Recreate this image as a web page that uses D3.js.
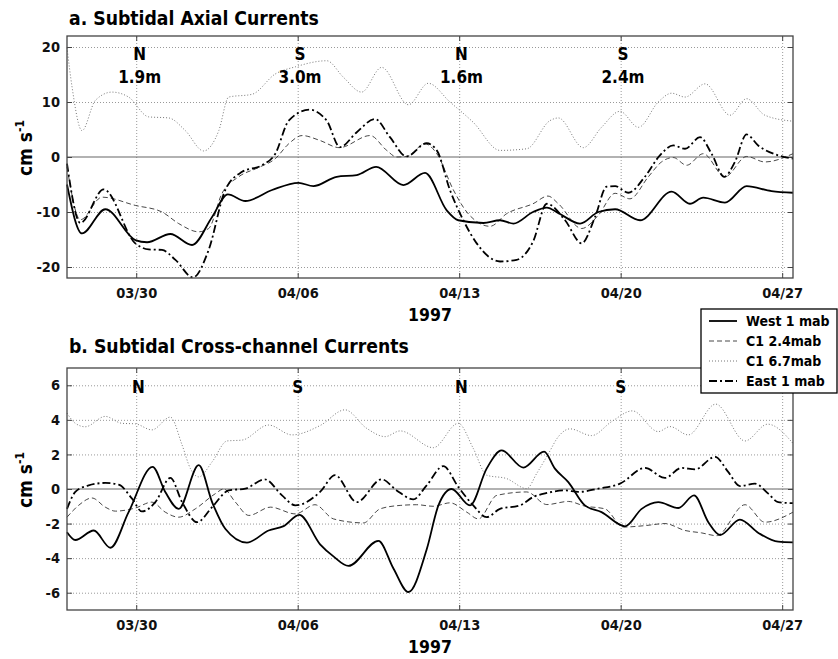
<!DOCTYPE html>
<html>
<head>
<meta charset="utf-8">
<script src="https://cdn.jsdelivr.net/npm/d3@7"></script>
<style>
  body { margin: 0; background: #fff; }
  svg { font-family: "DejaVu Sans Condensed", "DejaVu Sans", sans-serif; font-weight: bold; }
  .grid line { stroke: #999; stroke-dasharray: 1,2; }
  .grid path { display: none; }
  .ax path { display: none; }
  .ax line { stroke: #444; }
  .ax text { font-size: 14.5px; font-family: "DejaVu Sans Condensed", sans-serif; font-weight: bold; fill: #111; }
</style>
</head>
<body>
<script>
var width = 838, height = 659;

// days since 03/27/1997 and current (cm/s)
var axialWest = [[0,-5],[0.65,-13.9],[1.66,-9.5],[2.96,-15.1],[3.47,-15.5],[4.48,-14],[5.42,-16],[6.29,-10.9],[6.97,-6.8],[7.73,-8],[8.89,-6],[10.04,-4.7],[10.68,-5.3],[11.69,-3.6],[12.56,-3.3],[13.4,-1.8],[14.58,-5.1],[15.52,-2.9],[16.46,-9.7],[16.96,-11.5],[18.05,-12],[18.77,-11.5],[19.35,-12.1],[20.2,-10],[20.8,-9.2],[21.3,-10.2],[22.24,-12.1],[23.03,-10],[23.76,-9.5],[24.84,-11.5],[26.21,-6.3],[27,-8.5],[27.58,-7.4],[28.52,-8.3],[29.46,-5.3],[30.54,-6.2],[31.47,-6.5]];
var axialC1low = [[0,-1.8],[0.58,-11.4],[1.52,-7.3],[2.96,-8.8],[4.12,-10],[4.84,-12.1],[5.71,-13.6],[6.14,-13],[6.72,-6.6],[7.44,-3.6],[8.31,-1.9],[9.03,-0.3],[9.61,2.4],[10.19,3.9],[10.97,3],[11.8,1.7],[13.14,3.9],[13.86,1.2],[14.29,0],[14.72,0.1],[15.52,2.4],[16.03,0.6],[16.75,-6],[17.33,-10],[18.34,-12.6],[19.06,-10.3],[20.2,-8.5],[20.85,-7.1],[21.3,-8.5],[22.31,-13],[23.03,-10.6],[23.76,-6.6],[24.4,-7.6],[25.2,-3.6],[25.77,-0.9],[26.28,-0.1],[26.86,-1.5],[27.58,0.6],[28.52,-3.6],[29.46,0.1],[30.25,-0.9],[31.47,0.6]];
var axialC1high = [[0,19.9],[0.22,12.7],[0.65,4.8],[1.23,10.3],[1.95,11.8],[2.67,10.9],[3.54,7.3],[4.41,7.1],[5.13,4.8],[5.92,1.1],[6.58,4.8],[7.01,10.9],[8.02,11.4],[9.03,15.1],[9.9,16.4],[11.26,17.5],[11.98,14.5],[12.77,11.8],[13.64,16.3],[14.8,9.5],[15.66,13.4],[16.6,10],[17.61,6.3],[18.77,1.2],[19.93,1.5],[20.93,6.6],[21.3,7.1],[22.38,1.7],[23.17,5.4],[23.97,8.3],[24.77,5.4],[25.63,10],[26.21,11.6],[26.79,10.9],[27.66,13.3],[28.74,7.6],[29.46,10.6],[30.25,7.6],[31.47,6.5]];
var axialEast = [[0,-1.2],[0.58,-12],[1.59,-5.9],[2.96,-15.7],[3.54,-16.8],[4.12,-16.9],[4.7,-18.7],[5.46,-21.9],[6.14,-16.9],[6.86,-6],[7.59,-2.7],[8.45,-1.5],[9.03,0.6],[9.61,6.6],[10.5,8.6],[11.26,6.6],[11.83,1.8],[12.56,4.5],[13.35,6.9],[14,3.6],[14.72,0.1],[15.59,2.5],[16.03,1.2],[16.6,-6],[17.18,-11.5],[17.76,-15.7],[18.77,-19],[19.49,-18.7],[20.2,-15.4],[20.8,-8.5],[21.59,-11.5],[22.31,-15.7],[22.89,-10.9],[23.39,-5.4],[23.76,-5.3],[24.33,-6.5],[25.05,-3.6],[25.7,0.3],[26.28,2.1],[26.79,1.5],[27.44,3.6],[27.94,0.6],[28.49,-3.6],[28.95,-0.9],[29.46,4.1],[29.96,2.1],[30.83,0.3],[31.47,-0.3]];

var crossWest = [[0,-2.5],[0.36,-2.95],[1.16,-2.4],[1.88,-3.4],[2.67,-1.34],[3.71,1.28],[4.26,-0.17],[4.84,-1.15],[5.71,1.38],[6.29,-0.76],[6.86,-2.3],[7.8,-3.1],[8.74,-2.4],[9.39,-2.15],[10.07,-1.5],[10.97,-3.2],[11.55,-3.9],[12.2,-4.45],[13.5,-3],[14.15,-4.6],[14.8,-5.96],[15.59,-3.5],[16.1,-0.95],[16.67,0],[17.47,-0.95],[18.19,1.18],[18.84,2.23],[19.78,1.24],[20.68,2.16],[21.15,1.18],[21.73,0.4],[22.45,-0.95],[23.17,-1.34],[24.19,-2.16],[24.91,-1.15],[25.63,-0.76],[26.5,-1.1],[27.18,-0.37],[27.8,-1.92],[28.31,-2.66],[29.17,-1.77],[29.97,-2.54],[30.83,-3.05],[31.47,-3.09]];
var crossC1low = [[0,-1.63],[0.5,-0.95],[1.08,-0.52],[1.66,-1.05],[2.1,-1.28],[2.96,-1.1],[3.68,-0.76],[4.26,-1.34],[4.84,-1.63],[5.56,-1.15],[6.43,-0.27],[6.79,0],[7.3,-0.76],[7.88,-1.53],[8.82,-1.05],[9.9,-1.44],[10.75,-0.91],[11.55,-1.73],[12.85,-1.96],[13.57,-1.15],[14.44,-0.95],[15.16,-0.91],[15.88,-1],[16.6,-0.8],[17.33,-1.34],[17.83,-1.73],[18.63,-0.37],[19.93,-0.17],[20.8,-0.9],[21.73,-0.72],[22.45,-0.99],[23.32,-1.15],[24.12,-2.2],[25.05,-2.12],[25.92,-2],[26.79,-2.4],[27.51,-2.54],[28.16,-2.7],[29.39,-0.91],[30.25,-1.92],[31.47,-1.34]];
var crossC1high = [[0,4.39],[0.36,3.8],[0.79,3.6],[1.66,4.2],[2.38,3.8],[2.96,3.77],[3.68,3.42],[4.48,4.16],[4.99,2.54],[5.35,1.18],[5.71,0.7],[6.29,1.57],[6.94,2.78],[7.59,2.83],[8.74,3.7],[9.75,3.13],[10.97,3.67],[12.05,4.58],[12.99,3.51],[13.79,3.03],[14.44,3.36],[15.88,2.39],[16.96,3.8],[17.61,2.35],[18.19,0.8],[19.06,0.6],[19.93,0.02],[20.36,0.9],[20.85,2],[21.3,3.03],[21.8,3.48],[22.74,3.09],[23.61,3.9],[24.51,4.52],[25.63,3.32],[26.14,3.61],[26.93,3.13],[28.12,4.91],[29.39,2.78],[30.37,3.75],[31.47,2.64]];
var crossEast = [[0,-1.15],[0.36,-0.17],[0.94,0.21],[1.66,0.35],[2.24,0.25],[2.82,-0.56],[3.25,-1.3],[3.83,-0.76],[4.48,0.64],[4.99,-0.76],[5.64,-1.92],[6.29,-1.05],[7.01,-0.08],[7.73,0.02],[8.57,0.56],[9.32,-0.37],[9.9,-0.95],[10.97,-0.17],[11.62,0.8],[12.56,-0.76],[13.64,0.56],[14.29,-0.08],[15.01,-0.6],[15.59,0.21],[16.31,1.32],[16.96,0.12],[17.61,-0.95],[18.19,-1.63],[18.77,-1.15],[19.64,-0.95],[20.2,-0.47],[20.8,-0.23],[21.59,-0.08],[22.16,-0.17],[23.03,0.02],[23.97,0.31],[25.05,1.22],[25.92,0.64],[26.64,1.22],[27.22,1.13],[28.09,1.86],[28.66,0.99],[29.17,0.17],[29.82,0.31],[30.4,-0.27],[30.83,-0.76],[31.47,-0.82]];

var dateTicks = ["03/30/1997","04/06/1997","04/13/1997","04/20/1997","04/27/1997"];
var axialTicks = [-20,-10,0,10,20];
var crossTicks = [-6,-4,-2,0,2,4,6];
var axialMarks = [["N","1.9m",3.15],["S","3.0m",10.1],["N","1.6m",17.1],["S","2.4m",24.1]];
var crossMarks = [["N",3.1],["S",10.0],["N",17.1],["S",24.0]];
var seriesNames = ["West 1 mab","C1 2.4mab","C1 6.7mab","East 1 mab"];

var styles = [
  {stroke: "#000", w: 1.8, dash: null},
  {stroke: "#333", w: 0.9, dash: "5,3"},
  {stroke: "#777", w: 1, dash: "1,2"},
  {stroke: "#000", w: 1.8, dash: "8,3,2,3"}
];

var t0 = Date.UTC(1997, 2, 27);
function toDate(d) { return new Date(t0 + d * 864e5); }
var parse = d3.utcParse("%m/%d/%Y");

var svg = d3.select("body").append("svg").attr("width", width).attr("height", height);

var x = d3.scaleUtc().domain([toDate(0), toDate(31.47)]).range([67, 793]);

function panel(top, bottom, domain, ticks, series, title, titleY) {
  var y = d3.scaleLinear().domain(domain).range([bottom, top]);
  var h = bottom - top;
  var g = svg.append("g");

  // grid
  g.append("g").attr("class", "grid").attr("transform", "translate(0," + bottom + ")")
    .call(d3.axisBottom(x).tickValues(dateTicks.map(parse)).tickSize(-h).tickFormat(""));
  g.append("g").attr("class", "grid").attr("transform", "translate(67,0)")
    .call(d3.axisLeft(y).tickValues(ticks.filter(function(v){ return v != 0; })).tickSize(-726).tickFormat(""));

  // zero line
  g.append("line").attr("x1", 67).attr("x2", 793).attr("y1", y(0)).attr("y2", y(0))
    .attr("stroke", "#666").attr("stroke-width", 1.1);

  // axes with inward ticks
  g.append("g").attr("class", "ax").attr("transform", "translate(0," + bottom + ")")
    .call(d3.axisBottom(x).tickValues(dateTicks.map(parse)).tickSize(-5).tickPadding(10).tickFormat(d3.utcFormat("%m/%d")));
  g.append("g").attr("class", "ax").attr("transform", "translate(0," + top + ")")
    .call(d3.axisTop(x).tickValues(dateTicks.map(parse)).tickSize(-5).tickFormat(""));
  g.append("g").attr("class", "ax").attr("transform", "translate(67,0)")
    .call(d3.axisLeft(y).tickValues(ticks).tickSize(-5).tickPadding(7).tickFormat(function(v){ return String(v); }));
  g.append("g").attr("class", "ax").attr("transform", "translate(793,0)")
    .call(d3.axisRight(y).tickValues(ticks).tickSize(-5).tickFormat(""));

  var line = d3.line().x(function(d){ return x(toDate(d[0])); }).y(function(d){ return y(d[1]); })
    .curve(d3.curveMonotoneX);
  // draw dotted first, then the rest
  [2, 1, 0, 3].forEach(function(i) {
    g.append("path").datum(series[i]).attr("d", line).attr("fill", "none")
      .attr("stroke", styles[i].stroke).attr("stroke-width", styles[i].w)
      .attr("stroke-dasharray", styles[i].dash);
  });

  // frame
  g.append("rect").attr("x", 67).attr("y", top).attr("width", 726).attr("height", h)
    .attr("fill", "none").attr("stroke", "#444").attr("stroke-width", 1.3);

  g.append("text").attr("x", 69).attr("y", titleY).attr("font-size", 19.2).text(title);
  g.append("text").attr("x", 430).attr("y", bottom + 43).attr("text-anchor", "middle")
    .attr("font-size", 17.5).text("1997");

  var yl = g.append("text").attr("transform", "translate(32," + ((top + bottom) / 2 - 9) + ") rotate(-90)")
    .attr("text-anchor", "middle").attr("font-size", 19);
  yl.append("tspan").text("cm s");
  yl.append("tspan").attr("font-size", 12).attr("dy", -8).text("-1");
  return y;
}

var yA = panel(36, 278, [-22, 22], axialTicks, [axialWest, axialC1low, axialC1high, axialEast],
  "a. Subtidal Axial Currents", 25);
var yB = panel(368, 610, [-7, 7], crossTicks, [crossWest, crossC1low, crossC1high, crossEast],
  "b. Subtidal Cross-channel Currents", 353);

axialMarks.forEach(function(m) {
  svg.append("text").attr("x", x(toDate(m[2]))).attr("y", 60).attr("text-anchor", "middle")
    .attr("font-size", 17).text(m[0]);
  svg.append("text").attr("x", x(toDate(m[2]))).attr("y", 83).attr("text-anchor", "middle")
    .attr("font-size", 17).text(m[1]);
});
crossMarks.forEach(function(m) {
  svg.append("text").attr("x", x(toDate(m[1]))).attr("y", 393).attr("text-anchor", "middle")
    .attr("font-size", 17).text(m[0]);
});

// legend
var lg = svg.append("g");
lg.append("rect").attr("x", 701).attr("y", 309).attr("width", 136).attr("height", 84)
  .attr("fill", "#fff").attr("stroke", "#000").attr("stroke-width", 1.3);
seriesNames.forEach(function(name, i) {
  var yy = 321 + i * 20;
  lg.append("line").attr("x1", 709).attr("x2", 737).attr("y1", yy).attr("y2", yy)
    .attr("stroke", styles[i].stroke).attr("stroke-width", styles[i].w)
    .attr("stroke-dasharray", styles[i].dash);
  lg.append("text").attr("x", 746).attr("y", yy + 5).attr("font-size", 14).text(name);
});
</script>
</body>
</html>
